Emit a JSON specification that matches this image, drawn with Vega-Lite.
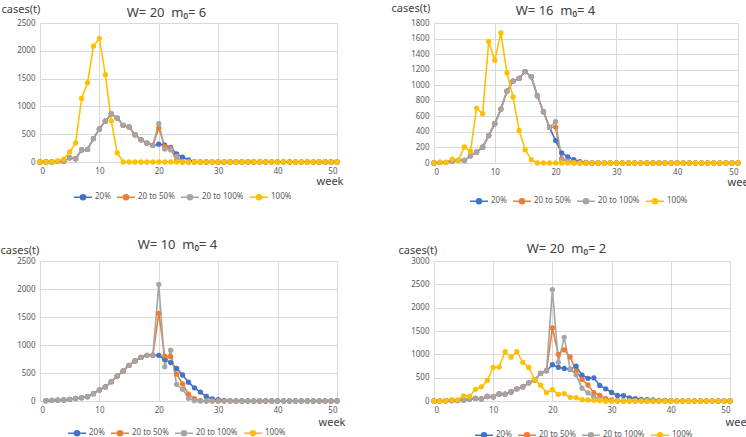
{
"$schema":"https://vega.github.io/schema/vega-lite/v6.json",
"padding":{"left":0,"top":2,"right":0,"bottom":0},
"datasets":{"d":[
{"p":1,"w":0,"a":0,"b":0,"c":0,"d":0},{"p":1,"w":1,"a":0,"b":0,"c":0,"d":0},{"p":1,"w":2,"a":0,"b":0,"c":0,"d":0},
{"p":1,"w":3,"a":10,"b":10,"c":10,"d":20},{"p":1,"w":4,"a":10,"b":10,"c":10,"d":50},{"p":1,"w":5,"a":75,"b":75,"c":75,"d":180},
{"p":1,"w":6,"a":58,"b":58,"c":58,"d":345},{"p":1,"w":7,"a":217,"b":217,"c":217,"d":1142},{"p":1,"w":8,"a":226,"b":226,"c":226,"d":1425},
{"p":1,"w":9,"a":422,"b":422,"c":422,"d":2085},{"p":1,"w":10,"a":595,"b":595,"c":595,"d":2225},{"p":1,"w":11,"a":735,"b":735,"c":735,"d":1570},
{"p":1,"w":12,"a":866,"b":866,"c":866,"d":740},{"p":1,"w":13,"a":790,"b":790,"c":790,"d":165},{"p":1,"w":14,"a":660,"b":660,"c":660,"d":0},
{"p":1,"w":15,"a":630,"b":630,"c":630,"d":0},{"p":1,"w":16,"a":490,"b":490,"c":490,"d":0},{"p":1,"w":17,"a":400,"b":400,"c":400,"d":0},
{"p":1,"w":18,"a":340,"b":340,"c":340,"d":0},{"p":1,"w":19,"a":300,"b":300,"c":300,"d":0},{"p":1,"w":20,"a":321,"b":613,"c":690,"d":0},
{"p":1,"w":21,"a":303,"b":282,"c":232,"d":0},{"p":1,"w":22,"a":262,"b":244,"c":217,"d":0},{"p":1,"w":23,"a":145,"b":18,"c":107,"d":0},
{"p":1,"w":24,"a":86,"b":0,"c":3,"d":0},{"p":1,"w":25,"a":36,"b":0,"c":0,"d":0},{"p":1,"w":26,"a":8,"b":0,"c":0,"d":0},
{"p":1,"w":27,"a":0,"b":0,"c":0,"d":0},{"p":1,"w":28,"a":0,"b":0,"c":0,"d":0},{"p":1,"w":29,"a":0,"b":0,"c":0,"d":0},
{"p":1,"w":30,"a":0,"b":0,"c":0,"d":0},{"p":1,"w":31,"a":0,"b":0,"c":0,"d":0},{"p":1,"w":32,"a":0,"b":0,"c":0,"d":0},
{"p":1,"w":33,"a":0,"b":0,"c":0,"d":0},{"p":1,"w":34,"a":0,"b":0,"c":0,"d":0},{"p":1,"w":35,"a":0,"b":0,"c":0,"d":0},
{"p":1,"w":36,"a":0,"b":0,"c":0,"d":0},{"p":1,"w":37,"a":0,"b":0,"c":0,"d":0},{"p":1,"w":38,"a":0,"b":0,"c":0,"d":0},
{"p":1,"w":39,"a":0,"b":0,"c":0,"d":0},{"p":1,"w":40,"a":0,"b":0,"c":0,"d":0},{"p":1,"w":41,"a":0,"b":0,"c":0,"d":0},
{"p":1,"w":42,"a":0,"b":0,"c":0,"d":0},{"p":1,"w":43,"a":0,"b":0,"c":0,"d":0},{"p":1,"w":44,"a":0,"b":0,"c":0,"d":0},
{"p":1,"w":45,"a":0,"b":0,"c":0,"d":0},{"p":1,"w":46,"a":0,"b":0,"c":0,"d":0},{"p":1,"w":47,"a":0,"b":0,"c":0,"d":0},
{"p":1,"w":48,"a":0,"b":0,"c":0,"d":0},{"p":1,"w":49,"a":0,"b":0,"c":0,"d":0},{"p":1,"w":50,"a":0,"b":0,"c":0,"d":0},

{"p":2,"w":0,"a":0,"b":0,"c":0,"d":0},{"p":2,"w":1,"a":7,"b":7,"c":7,"d":9},{"p":2,"w":2,"a":9,"b":9,"c":9,"d":6},
{"p":2,"w":3,"a":26,"b":26,"c":26,"d":50},{"p":2,"w":4,"a":34,"b":34,"c":34,"d":34},{"p":2,"w":5,"a":32,"b":32,"c":32,"d":206},
{"p":2,"w":6,"a":92,"b":92,"c":92,"d":148},{"p":2,"w":7,"a":139,"b":139,"c":139,"d":706},{"p":2,"w":8,"a":204,"b":204,"c":204,"d":634},
{"p":2,"w":9,"a":352,"b":352,"c":352,"d":1562},{"p":2,"w":10,"a":505,"b":505,"c":505,"d":1322},{"p":2,"w":11,"a":693,"b":693,"c":693,"d":1673},
{"p":2,"w":12,"a":925,"b":925,"c":925,"d":1157},{"p":2,"w":13,"a":1053,"b":1053,"c":1053,"d":850},{"p":2,"w":14,"a":1088,"b":1088,"c":1088,"d":418},
{"p":2,"w":15,"a":1176,"b":1176,"c":1176,"d":170},{"p":2,"w":16,"a":1110,"b":1110,"c":1110,"d":43},{"p":2,"w":17,"a":865,"b":865,"c":865,"d":0},
{"p":2,"w":18,"a":659,"b":659,"c":659,"d":0},{"p":2,"w":19,"a":457,"b":457,"c":457,"d":0},{"p":2,"w":20,"a":288,"b":462,"c":532,"d":0},
{"p":2,"w":21,"a":129,"b":60,"c":40,"d":0},{"p":2,"w":22,"a":80,"b":20,"c":25,"d":0},{"p":2,"w":23,"a":43,"b":3,"c":3,"d":0},
{"p":2,"w":24,"a":19,"b":0,"c":0,"d":0},{"p":2,"w":25,"a":9,"b":0,"c":0,"d":0},{"p":2,"w":26,"a":0,"b":0,"c":0,"d":0},
{"p":2,"w":27,"a":0,"b":0,"c":0,"d":0},{"p":2,"w":28,"a":0,"b":0,"c":0,"d":0},{"p":2,"w":29,"a":0,"b":0,"c":0,"d":0},
{"p":2,"w":30,"a":0,"b":0,"c":0,"d":0},{"p":2,"w":31,"a":0,"b":0,"c":0,"d":0},{"p":2,"w":32,"a":0,"b":0,"c":0,"d":0},
{"p":2,"w":33,"a":0,"b":0,"c":0,"d":0},{"p":2,"w":34,"a":0,"b":0,"c":0,"d":0},{"p":2,"w":35,"a":0,"b":0,"c":0,"d":0},
{"p":2,"w":36,"a":0,"b":0,"c":0,"d":0},{"p":2,"w":37,"a":0,"b":0,"c":0,"d":0},{"p":2,"w":38,"a":0,"b":0,"c":0,"d":0},
{"p":2,"w":39,"a":0,"b":0,"c":0,"d":0},{"p":2,"w":40,"a":0,"b":0,"c":0,"d":0},{"p":2,"w":41,"a":0,"b":0,"c":0,"d":0},
{"p":2,"w":42,"a":0,"b":0,"c":0,"d":0},{"p":2,"w":43,"a":0,"b":0,"c":0,"d":0},{"p":2,"w":44,"a":0,"b":0,"c":0,"d":0},
{"p":2,"w":45,"a":0,"b":0,"c":0,"d":0},{"p":2,"w":46,"a":0,"b":0,"c":0,"d":0},{"p":2,"w":47,"a":0,"b":0,"c":0,"d":0},
{"p":2,"w":48,"a":0,"b":0,"c":0,"d":0},{"p":2,"w":49,"a":0,"b":0,"c":0,"d":0},{"p":2,"w":50,"a":0,"b":0,"c":0,"d":0},

{"p":3,"w":1,"a":5,"b":5,"c":5},{"p":3,"w":2,"a":10,"b":10,"c":10},{"p":3,"w":3,"a":14,"b":14,"c":14},
{"p":3,"w":4,"a":18,"b":18,"c":18},{"p":3,"w":5,"a":30,"b":30,"c":30},{"p":3,"w":6,"a":45,"b":45,"c":45},
{"p":3,"w":7,"a":60,"b":60,"c":60},{"p":3,"w":8,"a":77,"b":77,"c":77},{"p":3,"w":9,"a":131,"b":131,"c":131},
{"p":3,"w":10,"a":198,"b":198,"c":198},{"p":3,"w":11,"a":250,"b":250,"c":250},{"p":3,"w":12,"a":345,"b":345,"c":345},
{"p":3,"w":13,"a":445,"b":445,"c":445},{"p":3,"w":14,"a":537,"b":537,"c":537},{"p":3,"w":15,"a":637,"b":637,"c":637},
{"p":3,"w":16,"a":716,"b":716,"c":716},{"p":3,"w":17,"a":779,"b":779,"c":779},{"p":3,"w":18,"a":815,"b":815,"c":815},
{"p":3,"w":19,"a":818,"b":818,"c":818},{"p":3,"w":20,"a":815,"b":1565,"c":2083},{"p":3,"w":21,"a":742,"b":803,"c":610},
{"p":3,"w":22,"a":687,"b":791,"c":906},{"p":3,"w":23,"a":583,"b":480,"c":297},{"p":3,"w":24,"a":464,"b":306,"c":211},
{"p":3,"w":25,"a":336,"b":122,"c":48},{"p":3,"w":26,"a":235,"b":42,"c":6},{"p":3,"w":27,"a":160,"b":6,"c":0},
{"p":3,"w":28,"a":80,"b":0,"c":0},{"p":3,"w":29,"a":36,"b":0,"c":0},{"p":3,"w":30,"a":24,"b":0,"c":0},
{"p":3,"w":31,"a":12,"b":0,"c":0},{"p":3,"w":32,"a":6,"b":0,"c":0},{"p":3,"w":33,"a":0,"b":0,"c":0},
{"p":3,"w":34,"a":0,"b":0,"c":0},{"p":3,"w":35,"a":0,"b":0,"c":0},{"p":3,"w":36,"a":0,"b":0,"c":0},
{"p":3,"w":37,"a":0,"b":0,"c":0},{"p":3,"w":38,"a":0,"b":0,"c":0},{"p":3,"w":39,"a":0,"b":0,"c":0},
{"p":3,"w":40,"a":0,"b":0,"c":0},{"p":3,"w":41,"a":0,"b":0,"c":0},{"p":3,"w":42,"a":0,"b":0,"c":0},
{"p":3,"w":43,"a":0,"b":0,"c":0},{"p":3,"w":44,"a":0,"b":0,"c":0},{"p":3,"w":45,"a":0,"b":0,"c":0},
{"p":3,"w":46,"a":0,"b":0,"c":0},{"p":3,"w":47,"a":0,"b":0,"c":0},{"p":3,"w":48,"a":0,"b":0,"c":0},
{"p":3,"w":49,"a":0,"b":0,"c":0},{"p":3,"w":50,"a":0,"b":0,"c":0},

{"p":4,"w":0,"a":0,"b":0,"c":0,"d":0},{"p":4,"w":1,"a":0,"b":0,"c":0,"d":0},{"p":4,"w":2,"a":5,"b":5,"c":5,"d":10},
{"p":4,"w":3,"a":10,"b":10,"c":10,"d":30},{"p":4,"w":4,"a":10,"b":10,"c":10,"d":25},{"p":4,"w":5,"a":21,"b":21,"c":21,"d":110},
{"p":4,"w":6,"a":45,"b":45,"c":45,"d":100},{"p":4,"w":7,"a":55,"b":55,"c":55,"d":250},{"p":4,"w":8,"a":47,"b":47,"c":47,"d":303},
{"p":4,"w":9,"a":96,"b":96,"c":96,"d":440},{"p":4,"w":10,"a":90,"b":90,"c":90,"d":718},{"p":4,"w":11,"a":150,"b":150,"c":150,"d":728},
{"p":4,"w":12,"a":145,"b":145,"c":145,"d":1057},{"p":4,"w":13,"a":195,"b":195,"c":195,"d":940},{"p":4,"w":14,"a":260,"b":260,"c":260,"d":1057},
{"p":4,"w":15,"a":303,"b":303,"c":303,"d":828},{"p":4,"w":16,"a":390,"b":390,"c":390,"d":720},{"p":4,"w":17,"a":450,"b":450,"c":450,"d":460},
{"p":4,"w":18,"a":590,"b":590,"c":590,"d":340},{"p":4,"w":19,"a":648,"b":648,"c":648,"d":180},{"p":4,"w":20,"a":778,"b":1567,"c":2388,"d":243},
{"p":4,"w":21,"a":721,"b":1000,"c":828,"d":143},{"p":4,"w":22,"a":697,"b":1097,"c":1364,"d":160},{"p":4,"w":23,"a":678,"b":943,"c":687,"d":78},
{"p":4,"w":24,"a":746,"b":636,"c":561,"d":71},{"p":4,"w":25,"a":553,"b":461,"c":275,"d":29},{"p":4,"w":26,"a":486,"b":343,"c":175,"d":21},
{"p":4,"w":27,"a":497,"b":178,"c":89,"d":14},{"p":4,"w":28,"a":332,"b":121,"c":36,"d":7},{"p":4,"w":29,"a":260,"b":50,"c":0,"d":0},
{"p":4,"w":30,"a":183,"b":21,"c":0,"d":0},{"p":4,"w":31,"a":118,"b":7,"c":0,"d":0},{"p":4,"w":32,"a":117,"b":0,"c":0,"d":0},
{"p":4,"w":33,"a":68,"b":0,"c":0,"d":0},{"p":4,"w":34,"a":50,"b":0,"c":0,"d":0},{"p":4,"w":35,"a":36,"b":0,"c":0,"d":0},
{"p":4,"w":36,"a":29,"b":0,"c":0,"d":0},{"p":4,"w":37,"a":21,"b":0,"c":0,"d":0},{"p":4,"w":38,"a":14,"b":0,"c":0,"d":0},
{"p":4,"w":39,"a":14,"b":0,"c":0,"d":0},{"p":4,"w":40,"a":7,"b":0,"c":0,"d":0},{"p":4,"w":41,"a":0,"b":0,"c":0,"d":0},
{"p":4,"w":42,"a":0,"b":0,"c":0,"d":0},{"p":4,"w":43,"a":0,"b":0,"c":0,"d":0},{"p":4,"w":44,"a":0,"b":0,"c":0,"d":0},
{"p":4,"w":45,"a":0,"b":0,"c":0,"d":0},{"p":4,"w":46,"a":0,"b":0,"c":0,"d":0},{"p":4,"w":47,"a":0,"b":0,"c":0,"d":0},
{"p":4,"w":48,"a":0,"b":0,"c":0,"d":0},{"p":4,"w":49,"a":0,"b":0,"c":0,"d":0},{"p":4,"w":50,"a":0,"b":0,"c":0,"d":0}
]},
"columns":2,
"bounds":"flush",
"align":"all",
"spacing":{"row":98,"column":90},
"resolve":{"legend":{"color":"independent"}},
"concat":[
{"width":297,"height":139,"data":{"name":"d"},
 "transform":[{"filter":"datum.p==1"},{"fold":["a","b","c","d"],"as":["s","v"]},{"filter":"isValid(datum.v)"}],
 "layer":[
  {"mark":{"type":"line","strokeWidth":1.6,"point":{"filled":true,"size":28}},
   "encoding":{
    "x":{"field":"w","type":"quantitative","scale":{"domain":[0,50],"nice":false},"axis":{"values":[0,10,20,30,40,50],"title":"week","titleX":303,"titleY":19,"titleAlign":"right","titleBaseline":"middle"}},
    "y":{"field":"v","type":"quantitative","scale":{"domain":[0,2500],"nice":false},"axis":{"values":[0,500,1000,1500,2000,2500],"format":"d","title":"cases(t)","titleAngle":0,"titleX":-39,"titleY":-14,"titleAlign":"left","titleBaseline":"middle"}},
    "color":{"field":"s","type":"nominal","scale":{"domain":["a","b","c","d"],"range":["#4472C4","#ED7D31","#A5A5A5","#FFC000"]},
     "legend":{"orient":"none","legendX":33,"legendY":164,"direction":"horizontal","title":null,"labelExpr":"{'a':'20%','b':'20 to 50%','c':'20 to 100%','d':'100%'}[datum.value]","encode":{"symbols":{"update":{"fill":{"scale":"color","field":"value"},"stroke":{"scale":"color","field":"value"}}}}}}
   }},
  {"mark":{"type":"rule","opacity":0},"encoding":{"x":{"field":"w","type":"quantitative","axis":{"orient":"top","labels":false,"ticks":false,"domain":false,"grid":false,"title":"W= 20\u00a0\u00a0m₀= 6","titleX":126,"titleY":-11,"titleFontSize":13,"titleBaseline":"middle"}}}}
 ],
 "resolve":{"axis":{"x":"independent"}}},
{"width":304,"height":140,"data":{"name":"d"},
 "transform":[{"filter":"datum.p==2"},{"fold":["a","b","c","d"],"as":["s","v"]},{"filter":"isValid(datum.v)"}],
 "layer":[
  {"mark":{"type":"line","strokeWidth":1.6,"point":{"filled":true,"size":28}},
   "encoding":{
    "x":{"field":"w","type":"quantitative","scale":{"domain":[0,50],"nice":false},"axis":{"values":[0,10,20,30,40,50],"title":"week","titleX":320,"titleY":19,"titleAlign":"right","titleBaseline":"middle"}},
    "y":{"field":"v","type":"quantitative","scale":{"domain":[0,1800],"nice":false},"axis":{"values":[0,200,400,600,800,1000,1200,1400,1600,1800],"format":"d","title":"cases(t)","titleAngle":0,"titleX":-43,"titleY":-15,"titleAlign":"left","titleBaseline":"middle"}},
    "color":{"field":"s","type":"nominal","scale":{"domain":["a","b","c","d"],"range":["#4472C4","#ED7D31","#A5A5A5","#FFC000"]},
     "legend":{"orient":"none","legendX":35,"legendY":168,"direction":"horizontal","title":null,"labelExpr":"{'a':'20%','b':'20 to 50%','c':'20 to 100%','d':'100%'}[datum.value]","encode":{"symbols":{"update":{"fill":{"scale":"color","field":"value"},"stroke":{"scale":"color","field":"value"}}}}}}
   }},
  {"mark":{"type":"rule","opacity":0},"encoding":{"x":{"field":"w","type":"quantitative","axis":{"orient":"top","labels":false,"ticks":false,"domain":false,"grid":false,"title":"W= 16\u00a0\u00a0m₀= 4","titleX":121,"titleY":-13,"titleFontSize":13,"titleBaseline":"middle"}}}}
 ],
 "resolve":{"axis":{"x":"independent"}}},
{"width":297,"height":140,"data":{"name":"d"},
 "transform":[{"filter":"datum.p==3"},{"fold":["a","b","c","d"],"as":["s","v"]},{"filter":"isValid(datum.v)"}],
 "layer":[
  {"mark":{"type":"line","strokeWidth":1.6,"point":{"filled":true,"size":28}},
   "encoding":{
    "x":{"field":"w","type":"quantitative","scale":{"domain":[0,50],"nice":false},"axis":{"values":[0,10,20,30,40,50],"title":"week","titleX":305,"titleY":21,"titleAlign":"right","titleBaseline":"middle"}},
    "y":{"field":"v","type":"quantitative","scale":{"domain":[0,2500],"nice":false},"axis":{"values":[0,500,1000,1500,2000,2500],"format":"d","title":"cases(t)","titleAngle":0,"titleX":-40,"titleY":-11,"titleAlign":"left","titleBaseline":"middle"}},
    "color":{"field":"s","type":"nominal","scale":{"domain":["a","b","c","d"],"range":["#4472C4","#ED7D31","#A5A5A5","#FFC000"]},
     "legend":{"orient":"none","legendX":27,"legendY":162,"direction":"horizontal","title":null,"labelExpr":"{'a':'20%','b':'20 to 50%','c':'20 to 100%','d':'100%'}[datum.value]","encode":{"symbols":{"update":{"fill":{"scale":"color","field":"value"},"stroke":{"scale":"color","field":"value"}}}}}}
   }},
  {"mark":{"type":"rule","opacity":0},"encoding":{"x":{"field":"w","type":"quantitative","axis":{"orient":"top","labels":false,"ticks":false,"domain":false,"grid":false,"title":"W= 10\u00a0\u00a0m₀= 4","titleX":137,"titleY":-17,"titleFontSize":13,"titleBaseline":"middle"}}}}
 ],
 "resolve":{"axis":{"x":"independent"}}},
{"width":296,"height":140,"data":{"name":"d"},
 "transform":[{"filter":"datum.p==4"},{"fold":["a","b","c","d"],"as":["s","v"]},{"filter":"isValid(datum.v)"}],
 "layer":[
  {"mark":{"type":"line","strokeWidth":1.6,"point":{"filled":true,"size":28}},
   "encoding":{
    "x":{"field":"w","type":"quantitative","scale":{"domain":[0,50],"nice":false},"axis":{"values":[0,10,20,30,40,50],"title":"week","titleX":318,"titleY":21,"titleAlign":"right","titleBaseline":"middle"}},
    "y":{"field":"v","type":"quantitative","scale":{"domain":[0,3000],"nice":false},"axis":{"values":[0,500,1000,1500,2000,2500,3000],"format":"d","title":"cases(t)","titleAngle":0,"titleX":-36,"titleY":-11,"titleAlign":"left","titleBaseline":"middle"}},
    "color":{"field":"s","type":"nominal","scale":{"domain":["a","b","c","d"],"range":["#4472C4","#ED7D31","#A5A5A5","#FFC000"]},
     "legend":{"orient":"none","legendX":40,"legendY":164,"direction":"horizontal","title":null,"labelExpr":"{'a':'20%','b':'20 to 50%','c':'20 to 100%','d':'100%'}[datum.value]","encode":{"symbols":{"update":{"fill":{"scale":"color","field":"value"},"stroke":{"scale":"color","field":"value"}}}}}}
   }},
  {"mark":{"type":"rule","opacity":0},"encoding":{"x":{"field":"w","type":"quantitative","axis":{"orient":"top","labels":false,"ticks":false,"domain":false,"grid":false,"title":"W= 20\u00a0\u00a0m₀= 2","titleX":132,"titleY":-13,"titleFontSize":13,"titleBaseline":"middle"}}}}
 ],
 "resolve":{"axis":{"x":"independent"}}}
],
"config":{
 "font":"Noto Sans",
 "view":{"stroke":null},
 "axis":{"gridColor":"#d9d9d9","gridWidth":1,"domain":false,"ticks":false,"labelColor":"#595959","labelFontSize":8,"labelPadding":5,"titleFontWeight":"normal","titleColor":"#404040","titleFontSize":11,"titlePadding":0},
 "legend":{"symbolType":"M-1,0H1M-0.28,0A0.28,0.28,0,1,1,0.28,0A0.28,0.28,0,1,1,-0.28,0Z","symbolSize":324,"symbolStrokeWidth":1.5,"labelFontSize":8,"labelColor":"#595959","columnPadding":3,"labelOffset":2}
}
}
